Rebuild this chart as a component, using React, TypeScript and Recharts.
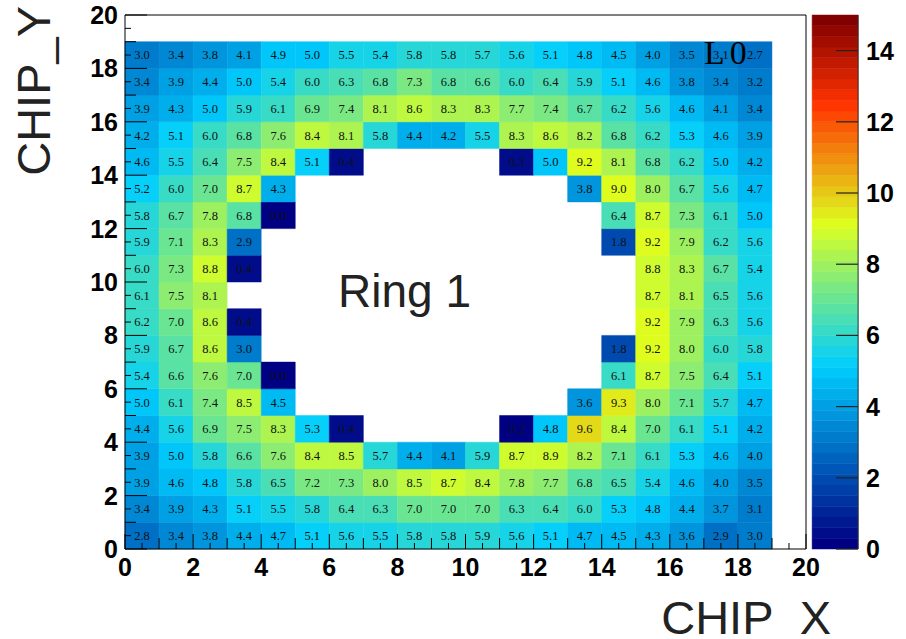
import React from 'react';
import {
  ScatterChart,
  Scatter,
  XAxis,
  YAxis,
  ReferenceArea,
  ReferenceLine,
} from 'recharts';

// Mean hit occupancy per chip, one array per CHIP_Y row (index = CHIP_X).
// null marks chips that are not present (the hole of ring 1).
const N = null;
const row18 = [3.0, 3.4, 3.8, 4.1, 4.9, 5.0, 5.5, 5.4, 5.8, 5.8, 5.7, 5.6, 5.1, 4.8, 4.5, 4.0, 3.5, 3.1, 2.7];
const row17 = [3.4, 3.9, 4.4, 5.0, 5.4, 6.0, 6.3, 6.8, 7.3, 6.8, 6.6, 6.0, 6.4, 5.9, 5.1, 4.6, 3.8, 3.4, 3.2];
const row16 = [3.9, 4.3, 5.0, 5.9, 6.1, 6.9, 7.4, 8.1, 8.6, 8.3, 8.3, 7.7, 7.4, 6.7, 6.2, 5.6, 4.6, 4.1, 3.4];
const row15 = [4.2, 5.1, 6.0, 6.8, 7.6, 8.4, 8.1, 5.8, 4.4, 4.2, 5.5, 8.3, 8.6, 8.2, 6.8, 6.2, 5.3, 4.6, 3.9];
const row14 = [4.6, 5.5, 6.4, 7.5, 8.4, 5.1, 0.4, N, N, N, N, 0.3, 5.0, 9.2, 8.1, 6.8, 6.2, 5.0, 4.2];
const row13 = [5.2, 6.0, 7.0, 8.7, 4.3, N, N, N, N, N, N, N, N, 3.8, 9.0, 8.0, 6.7, 5.6, 4.7];
const row12 = [5.8, 6.7, 7.8, 6.8, 0.0, N, N, N, N, N, N, N, N, N, 6.4, 8.7, 7.3, 6.1, 5.0];
const row11 = [5.9, 7.1, 8.3, 2.9, N, N, N, N, N, N, N, N, N, N, 1.8, 9.2, 7.9, 6.2, 5.6];
const row10 = [6.0, 7.3, 8.8, 0.4, N, N, N, N, N, N, N, N, N, N, N, 8.8, 8.3, 6.7, 5.4];
const row9 = [6.1, 7.5, 8.1, N, N, N, N, N, N, N, N, N, N, N, N, 8.7, 8.1, 6.5, 5.6];
const row8 = [6.2, 7.0, 8.6, 0.4, N, N, N, N, N, N, N, N, N, N, N, 9.2, 7.9, 6.3, 5.6];
const row7 = [5.9, 6.7, 8.6, 3.0, N, N, N, N, N, N, N, N, N, N, 1.8, 9.2, 8.0, 6.0, 5.8];
const row6 = [5.4, 6.6, 7.6, 7.0, 0.0, N, N, N, N, N, N, N, N, N, 6.1, 8.7, 7.5, 6.4, 5.1];
const row5 = [5.0, 6.1, 7.4, 8.5, 4.5, N, N, N, N, N, N, N, N, 3.6, 9.3, 8.0, 7.1, 5.7, 4.7];
const row4 = [4.4, 5.6, 6.9, 7.5, 8.3, 5.3, 0.4, N, N, N, N, 0.2, 4.8, 9.6, 8.4, 7.0, 6.1, 5.1, 4.2];
const row3 = [3.9, 5.0, 5.8, 6.6, 7.6, 8.4, 8.5, 5.7, 4.4, 4.1, 5.9, 8.7, 8.9, 8.2, 7.1, 6.1, 5.3, 4.6, 4.0];
const row2 = [3.9, 4.6, 4.8, 5.8, 6.5, 7.2, 7.3, 8.0, 8.5, 8.7, 8.4, 7.8, 7.7, 6.8, 6.5, 5.4, 4.6, 4.0, 3.5];
const row1 = [3.4, 3.9, 4.3, 5.1, 5.5, 5.8, 6.4, 6.3, 7.0, 7.0, 7.0, 6.3, 6.4, 6.0, 5.3, 4.8, 4.4, 3.7, 3.1];
const row0 = [2.8, 3.4, 3.8, 4.4, 4.7, 5.1, 5.6, 5.5, 5.8, 5.8, 5.9, 5.6, 5.1, 4.7, 4.5, 4.3, 3.6, 2.9, 3.0];

const rowsBottomUp = [
  row0, row1, row2, row3, row4, row5, row6, row7, row8, row9,
  row10, row11, row12, row13, row14, row15, row16, row17, row18,
];

// Axis ticks
const chipAxisLabels = [0, 2, 4, 6, 8, 10, 12, 14, 16, 18, 20];
const chipAxisTicks: number[] = [];
for (let t = 0; t <= 40; t++) chipAxisTicks.push(t / 2);
const zAxisLabels = [0, 2, 4, 6, 8, 10, 12, 14];

const Z_MAX = 15;
const N_CONTOURS = 50;

// Gradient palette (stops / red / green / blue)
const stops = [0.0, 0.34, 0.61, 0.84, 1.0];
const reds = [0.0, 0.0, 0.87, 1.0, 0.51];
const greens = [0.0, 0.81, 1.0, 0.2, 0.0];
const blues = [0.51, 1.0, 0.12, 0.0, 0.0];

function paletteColor(t: number): string {
  const u = Math.max(0, Math.min(1, t));
  let k = 0;
  while (k < stops.length - 2 && u > stops[k + 1]) k++;
  const f = (u - stops[k]) / (stops[k + 1] - stops[k]);
  const c = (arr: number[]) => Math.round(255 * (arr[k] + f * (arr[k + 1] - arr[k])));
  return `rgb(${c(reds)},${c(greens)},${c(blues)})`;
}

const levelWidth = Z_MAX / N_CONTOURS;
function cellColor(v: number): string {
  const lvl = Math.min(N_CONTOURS - 1, Math.floor(v / levelWidth));
  return paletteColor(lvl / (N_CONTOURS - 1));
}

type Cell = { x: number; y: number; col: number; row: number; value: number };
const cells: Cell[] = [];
rowsBottomUp.forEach((r, row) => {
  r.forEach((v, col) => {
    if (v !== null) cells.push({ x: col + 0.5, y: row + 0.5, col, row, value: v as number });
  });
});

const bands: number[] = [];
for (let i = 0; i < N_CONTOURS; i++) bands.push(i);

const sans = '"Liberation Sans", Arial, Helvetica, sans-serif';
const serif = '"Liberation Serif", "Times New Roman", serif';

function tickLength(v: number, major: number, mid: number, minor: number) {
  if (Math.abs(v % 2) < 1e-9) return major;
  if (Math.abs(v % 1) < 1e-9) return mid;
  return minor;
}

const XTick = (props: any) => {
  const { x, y, payload } = props;
  const v = payload.value as number;
  const len = tickLength(v, 15, 11, 6);
  const labelled = chipAxisLabels.includes(v);
  return (
    <g>
      <line x1={x} y1={y} x2={x} y2={y - len} stroke="#000" strokeWidth={1} />
      {labelled && (
        <text x={x} y={y + 27} textAnchor="middle" fontFamily={sans} fontWeight="bold" fontSize={25} fill="#000">
          {v}
        </text>
      )}
    </g>
  );
};

const YTick = (props: any) => {
  const { x, y, payload } = props;
  const v = payload.value as number;
  const len = tickLength(v, 22, 11, 6);
  const labelled = chipAxisLabels.includes(v);
  return (
    <g>
      <line x1={x} y1={y} x2={x + len} y2={y} stroke="#000" strokeWidth={1} />
      {labelled && (
        <text x={x - 7} y={y} dy="0.36em" textAnchor="end" fontFamily={sans} fontWeight="bold" fontSize={25} fill="#000">
          {v}
        </text>
      )}
    </g>
  );
};

const ZTick = (props: any) => {
  const { x, y, payload } = props;
  return (
    <g>
      <line x1={x + 30} y1={y} x2={x + 52} y2={y} stroke="#222" strokeWidth={1.2} />
      <text x={x + 60} y={y} dy="0.36em" textAnchor="start" fontFamily={sans} fontWeight="bold" fontSize={25} fill="#000">
        {payload.value}
      </text>
    </g>
  );
};

const CellText = (props: any) => {
  const { cx, cy, payload } = props;
  if (cx == null || cy == null) return <g />;
  return (
    <text x={cx} y={cy} dy="0.35em" textAnchor="middle" fontFamily={serif} fontSize={12.5} fill="#111">
      {payload.value.toFixed(1)}
    </text>
  );
};

// Palette strip position, in CHIP_X units (to the right of the frame)
const PAL_X1 = 20.18;
const PAL_X2 = 21.53;

export default function App() {
  return (
    <div style={{ position: 'absolute', left: 0, top: 0, width: 906, height: 639, background: '#fff' }}>
      <ScatterChart
        width={906}
        height={639}
        margin={{ top: 15, right: 40, bottom: 50, left: 65 }}
      >
        <XAxis
          type="number"
          dataKey="x"
          domain={[0, 20]}
          allowDataOverflow
          ticks={chipAxisTicks}
          interval={0}
          tick={<XTick />}
          tickLine={false}
          tickSize={0}
          tickMargin={0}
          height={40}
          axisLine={{ stroke: '#000', strokeWidth: 1 }}
        />
        <YAxis
          type="number"
          dataKey="y"
          domain={[0, 20]}
          allowDataOverflow
          ticks={chipAxisTicks}
          interval={0}
          tick={<YTick />}
          tickLine={false}
          tickSize={0}
          tickMargin={0}
          width={60}
          axisLine={{ stroke: '#000', strokeWidth: 1 }}
        />
        <YAxis
          yAxisId="z"
          orientation="right"
          type="number"
          domain={[0, Z_MAX]}
          allowDataOverflow
          ticks={zAxisLabels}
          interval={0}
          tick={<ZTick />}
          tickLine={false}
          tickSize={0}
          tickMargin={0}
          width={60}
          axisLine={false}
        />

        {cells.map((c) => (
          <ReferenceArea
            key={`c-${c.col}-${c.row}`}
            x1={c.col}
            x2={c.col + 1}
            y1={c.row}
            y2={c.row + 1}
            fill={cellColor(c.value)}
            fillOpacity={1}
            stroke={cellColor(c.value)}
            strokeWidth={0.5}
            ifOverflow="visible"
          />
        ))}

        {bands.map((i) => (
          <ReferenceArea
            key={`b-${i}`}
            yAxisId="z"
            x1={PAL_X1}
            x2={PAL_X2}
            y1={i * levelWidth}
            y2={(i + 1) * levelWidth}
            fill={paletteColor(i / (N_CONTOURS - 1))}
            fillOpacity={1}
            stroke={paletteColor(i / (N_CONTOURS - 1))}
            strokeWidth={0.5}
            ifOverflow="visible"
          />
        ))}
        <ReferenceLine
          yAxisId="z"
          segment={[{ x: PAL_X2, y: 0 }, { x: PAL_X2, y: Z_MAX }]}
          stroke="#333"
          strokeWidth={1}
          ifOverflow="visible"
        />

        <ReferenceLine x={20} stroke="#000" strokeWidth={1} ifOverflow="visible" />
        <ReferenceLine y={20} stroke="#000" strokeWidth={1} ifOverflow="visible" />

        <Scatter data={cells} dataKey="y" shape={<CellText />} isAnimationActive={false} />

        <text x={338} y={307} fontFamily={sans} fontSize={46} fill="#222">
          Ring 1
        </text>
        <text
          x={50}
          y={6}
          transform="rotate(-90 50 6)"
          textAnchor="end"
          fontFamily={sans}
          fontSize={47}
          fill="#222"
        >
          CHIP_Y
        </text>
        <text x={831} y={634} textAnchor="end" fontFamily={sans} fontSize={47} fill="#222">
          CHIP_X
        </text>
      </ScatterChart>
      {/* layer label drawn above the cell map */}
      <svg
        width={906}
        height={639}
        style={{ position: 'absolute', left: 0, top: 0, pointerEvents: 'none' }}
      >
        <text x={704} y={64} fontFamily={serif} fontSize={34} fill="#000" letterSpacing={5}>
          L0
        </text>
      </svg>
    </div>
  );
}
